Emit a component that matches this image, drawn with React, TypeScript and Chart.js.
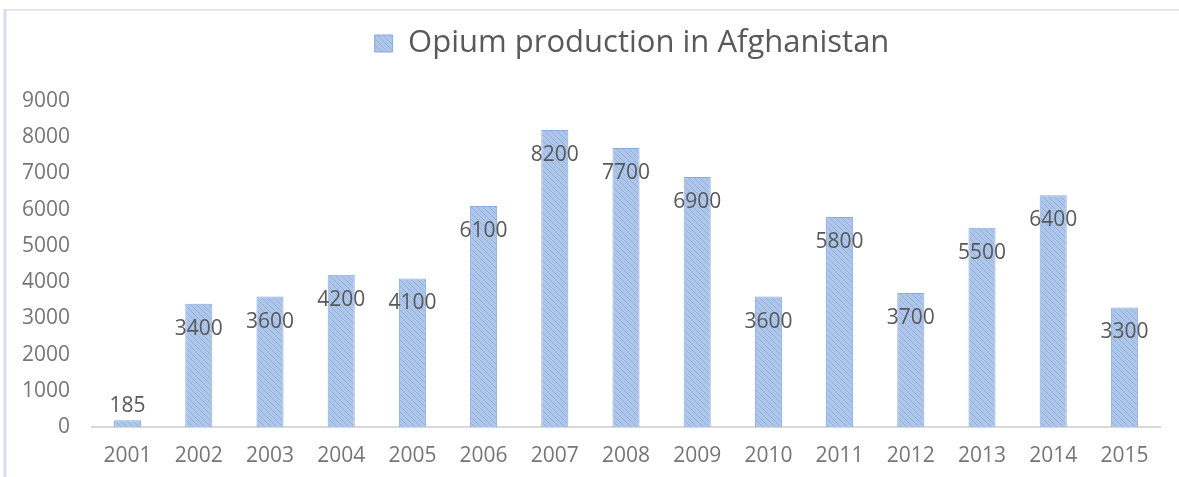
import React, { useEffect, useRef } from "react";
import { Chart, registerables } from "chart.js";

Chart.register(...registerables);

const years = ["2001", "2002", "2003", "2004", "2005", "2006", "2007", "2008", "2009", "2010", "2011", "2012", "2013", "2014", "2015"];
const production = [185, 3400, 3600, 4200, 4100, 6100, 8200, 7700, 6900, 3600, 5800, 3700, 5500, 6400, 3300];
const seriesLabel = "Opium production in Afghanistan";
const yMin = 0;
const yMax = 9000;
const yStep = 1000;

function makePattern(): CanvasPattern | string {
  const c = document.createElement("canvas");
  c.width = 6;
  c.height = 6;
  const g = c.getContext("2d");
  if (!g) return "#abc5e9";
  g.fillStyle = "#adc6ea";
  g.fillRect(0, 0, 6, 6);
  g.strokeStyle = "#93b2de";
  g.lineWidth = 1;
  g.beginPath();
  g.moveTo(0, 0);
  g.lineTo(6, 6);
  g.moveTo(-3, 3);
  g.lineTo(3, 9);
  g.moveTo(3, -3);
  g.lineTo(9, 3);
  g.stroke();
  return g.createPattern(c, "repeat") || "#abc5e9";
}

const framePlugin = {
  id: "frame",
  beforeDraw(chart: any) {
    const ctx = chart.ctx;
    ctx.save();
    ctx.fillStyle = "#ffffff";
    ctx.fillRect(0, 0, chart.width, chart.height);
    ctx.strokeStyle = "#e6e6e6";
    ctx.lineWidth = 2;
    ctx.beginPath();
    ctx.moveTo(6, 10);
    ctx.lineTo(chart.width, 10);
    ctx.stroke();
    ctx.strokeStyle = "#d9d9f3";
    ctx.lineWidth = 3;
    ctx.beginPath();
    ctx.moveTo(5, 9);
    ctx.lineTo(5, chart.height);
    ctx.stroke();
    ctx.restore();
  },
};

const legendSpacing = {
  id: "legendSpacing",
  beforeUpdate(chart: any) {
    const lg = chart.legend;
    if (lg && !lg._patched) {
      const f = lg.fit;
      lg.fit = function () {
        f.call(this);
        this.height += 32;
      };
      lg._patched = true;
    }
  },
  afterLayout(chart: any) {
    const lg = chart.legend;
    if (lg) {
      lg.left += 52;
      lg.right += 52;
    }
  },
};

const dataLabels = {
  id: "dataLabels",
  afterDatasetsDraw(chart: any) {
    const ctx = chart.ctx;
    const meta = chart.getDatasetMeta(0);
    ctx.save();
    ctx.font = "21px 'Open Sans', sans-serif";
    ctx.fillStyle = "#595959";
    ctx.textAlign = "center";
    ctx.textBaseline = "middle";
    meta.data.forEach((bar: any, i: number) => {
      const { x, y, base } = bar.getProps(["x", "y", "base"], true);
      const h = base - y;
      const ty = h < 40 ? y - 14 : y + 25;
      ctx.fillText(String(production[i]), x, ty);
    });
    ctx.restore();
  },
};

export default function App() {
  const ref = useRef<HTMLCanvasElement | null>(null);

  useEffect(() => {
    if (!ref.current) return;
    Chart.defaults.font.family = "'Open Sans', sans-serif";
    const pattern = makePattern();
    const chart = new Chart(ref.current, {
      type: "bar",
      data: {
        labels: years,
        datasets: [
          {
            label: seriesLabel,
            data: production,
            backgroundColor: pattern as any,
            borderColor: "#8aabdb",
            borderWidth: 1,
            barPercentage: 0.38,
            categoryPercentage: 1,
          },
        ],
      },
      options: {
        responsive: false,
        animation: false,
        devicePixelRatio: 1,
        layout: { padding: { left: 0, right: 19, top: 0, bottom: 0 } },
        plugins: {
          tooltip: { enabled: false },
          legend: {
            display: true,
            position: "top",
            labels: {
              boxWidth: 18,
              boxHeight: 17,
              padding: 28,
              color: "#595959",
              font: { size: 31, family: "'Open Sans', sans-serif" },
            },
          },
        },
        scales: {
          x: {
            grid: { display: false, drawTicks: false },
            border: { display: true, color: "#d9d9d9", width: 2 },
            ticks: {
              color: "#767676",
              padding: 16,
              font: { size: 21 },
              maxRotation: 0,
            },
            afterFit(scale: any) {
              scale.height = 50;
            },
          },
          y: {
            min: yMin,
            max: yMax,
            grid: { display: false, drawTicks: false },
            border: { display: false },
            ticks: {
              stepSize: yStep,
              color: "#767676",
              padding: 22,
              font: { size: 21 },
              callback: (v: any) => String(v),
            },
            afterFit(scale: any) {
              scale.width = 92;
            },
          },
        },
      },
      plugins: [framePlugin, legendSpacing, dataLabels],
    });
    return () => chart.destroy();
  }, []);

  return (
    <div style={{ position: "fixed", left: 0, top: 0, width: 1179, height: 477, background: "#fff" }}>
      <canvas ref={ref} width={1179} height={477} style={{ width: 1179, height: 477, display: "block" }} />
    </div>
  );
}
